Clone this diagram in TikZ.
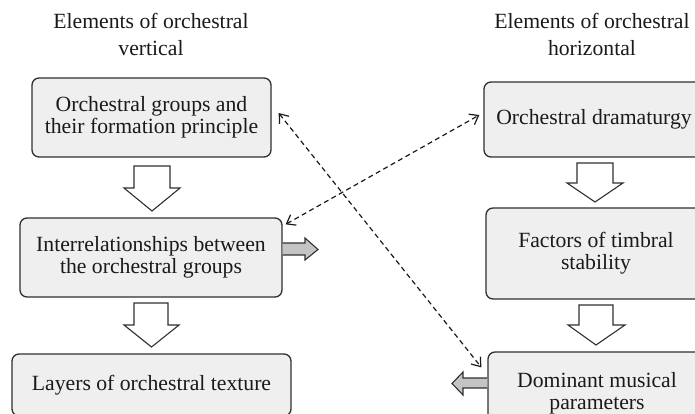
\documentclass[tikz,border=0pt]{standalone}
\usepackage{fontspec}
\setmainfont{Liberation Serif}
\usetikzlibrary{arrows.meta,calc}
\definecolor{boxfill}{HTML}{EFEFEF}
\definecolor{boxline}{HTML}{303030}
\definecolor{grayarrow}{HTML}{C4C4C4}
\definecolor{txt}{HTML}{1A1A1A}
\tikzset{
  box/.style={draw=boxline, line width=1.3pt, fill=boxfill, rounded corners=7pt,
    align=center, inner sep=0pt, font=\fontsize{21.7}{22}\selectfont, text=txt},
  title/.style={align=center, font=\fontsize{21.7}{27}\selectfont, text=txt},
  blockarrow/.style={draw=boxline, line width=1.1pt, fill=white, line join=miter},
  grayblock/.style={draw=boxline, line width=1.1pt, fill=grayarrow, line join=miter},
  dasharrow/.style={draw=txt, line width=1.2pt, dash pattern=on 5pt off 3.5pt,
    {Straight Barb[length=8pt,width=12pt]}-{Straight Barb[length=8pt,width=12pt]}}
}
\begin{document}
\begin{tikzpicture}[x=1pt,y=-1pt]
\useasboundingbox (0,0) rectangle (695,414);
% titles
\node[title] (tl) at (151,34.5) {Elements of orchestral\\vertical};
\node[title] (tr) at (592,34.5) {Elements of orchestral\\horizontal};
% left boxes
\node[box, minimum width=239pt, minimum height=79pt] (b1) at (151.5,117.5) {Orchestral groups and\\their formation principle};
\node[box, minimum width=262pt, minimum height=79pt] (b2) at (151,257.5) {Interrelationships between\\the orchestral groups};
\node[box, minimum width=279pt, minimum height=62pt] (b3) at (151.5,385) {Layers of orchestral texture};
% right boxes
\node[box, minimum width=220pt, minimum height=75pt] (r1) at (594,119.5) {Orchestral dramaturgy};
\node[box, minimum width=220pt, minimum height=91pt] (r2) at (596,253.5) {Factors of timbral\\stability};
\node[box, minimum width=218pt, minimum height=82pt] (r3) at (597,393) {Dominant musical\\parameters};
% down block arrows
\draw[blockarrow] (134,166) -- (170,166) -- (170,188) -- (180,188) -- (152,211) -- (124,188) -- (134,188) -- cycle;
\draw[blockarrow] (134,303) -- (168,303) -- (168,325) -- (179,325) -- (151.5,347) -- (124,325) -- (134,325) -- cycle;
\draw[blockarrow] (577,163) -- (613,163) -- (613,183) -- (623,183) -- (595,202) -- (567,183) -- (577,183) -- cycle;
\draw[blockarrow] (579,305) -- (613,305) -- (613,325) -- (625,325) -- (596,345) -- (568,325) -- (579,325) -- cycle;
% gray side arrows
\draw[grayblock] ($(b2.east)+(0,-14.5)$) -- (305,243) -- (305,238) -- (318,249.5) -- (305,260) -- (305,255) -- ($(b2.east)+(0,-2.5)$);
\draw[grayblock] ($(r3.west)+(0,-15)$) -- (463,378) -- (463,372) -- (452,383.5) -- (463,395) -- (463,388) -- ($(r3.west)+(0,-5)$);
% dashed double arrows
\draw[dasharrow] ([shift={(7,-4.5)}]b1.east) -- ([shift={(-6,16)}]r3.north west);
\draw[dasharrow] ([shift={(3,7)}]b2.north east) -- ([shift={(-4,-4.5)}]r1.west);
\end{tikzpicture}
\end{document}
